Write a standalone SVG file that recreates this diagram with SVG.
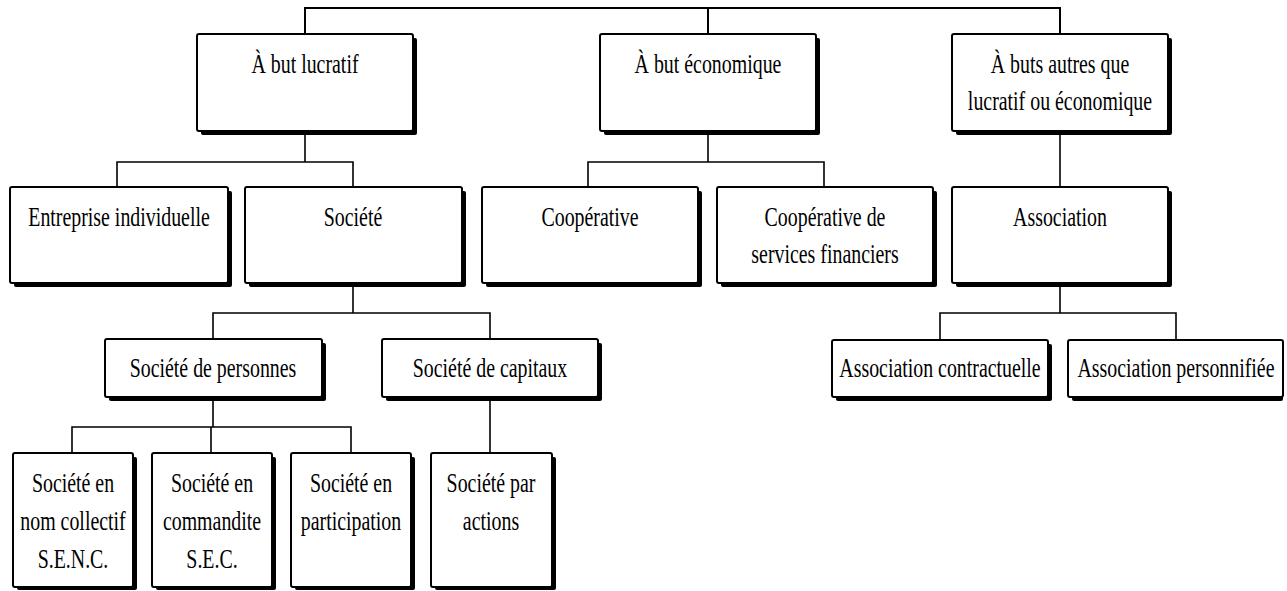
<svg xmlns="http://www.w3.org/2000/svg" width="1287" height="591" viewBox="0 0 1287 591">
<style>
.sh{fill:#000}
.box{fill:#fff;stroke:#000;stroke-width:2}
.t{font-family:'Liberation Serif','Times New Roman',serif;font-size:28px;text-anchor:middle;fill:#000}
.c{fill:none;stroke:#000;stroke-width:1.6}
</style>
<rect width="1287" height="591" fill="#fff"/>
<g id="connectors">
<path class="c" style="stroke-width:2" d="M305,34V8H1060V34M708,8V34"/>
<path class="c" d="M305,131V162M117,187V162H353V187"/>
<path class="c" d="M708,131V162M588,187V162H824V187"/>
<path class="c" d="M1060,131V187"/>
<path class="c" d="M353,283V313M213,339V313H490V339"/>
<path class="c" d="M1060,283V313M940,340V313H1176V340"/>
<path class="c" d="M213,397V427M72,453V427H351V453M211,427V453"/>
<path class="c" d="M490,397V453"/>
</g>
<g id="n1"><rect class="sh" x="201" y="38" width="216" height="97" rx="2"/><rect class="box" x="197" y="34" width="216" height="97" rx="2"/><text class="t" transform="translate(305,73) scale(0.71,1)">À but lucratif</text></g>
<g id="n2"><rect class="sh" x="604" y="38" width="216" height="97" rx="2"/><rect class="box" x="600" y="34" width="216" height="97" rx="2"/><text class="t" transform="translate(708,73) scale(0.71,1)">À but économique</text></g>
<g id="n3"><rect class="sh" x="956" y="38" width="216" height="97" rx="2"/><rect class="box" x="952" y="34" width="216" height="97" rx="2"/><text class="t" transform="translate(1060,73) scale(0.71,1)"><tspan x="0">À buts autres que</tspan><tspan x="0" dy="37">lucratif ou économique</tspan></text></g>
<g id="n4"><rect class="sh" x="14" y="191" width="218" height="96" rx="2"/><rect class="box" x="10" y="187" width="218" height="96" rx="2"/><text class="t" transform="translate(119,226) scale(0.71,1)">Entreprise individuelle</text></g>
<g id="n5"><rect class="sh" x="249" y="191" width="217" height="96" rx="2"/><rect class="box" x="245" y="187" width="217" height="96" rx="2"/><text class="t" transform="translate(353,226) scale(0.71,1)">Société</text></g>
<g id="n6"><rect class="sh" x="486" y="191" width="216" height="96" rx="2"/><rect class="box" x="482" y="187" width="216" height="96" rx="2"/><text class="t" transform="translate(590,226) scale(0.71,1)">Coopérative</text></g>
<g id="n7"><rect class="sh" x="721" y="191" width="216" height="96" rx="2"/><rect class="box" x="717" y="187" width="216" height="96" rx="2"/><text class="t" transform="translate(825,226) scale(0.71,1)"><tspan x="0">Coopérative de</tspan><tspan x="0" dy="37">services financiers</tspan></text></g>
<g id="n8"><rect class="sh" x="956" y="191" width="216" height="96" rx="2"/><rect class="box" x="952" y="187" width="216" height="96" rx="2"/><text class="t" transform="translate(1060,226) scale(0.71,1)">Association</text></g>
<g id="n9"><rect class="sh" x="109" y="343" width="217" height="58" rx="2"/><rect class="box" x="105" y="339" width="217" height="58" rx="2"/><text class="t" transform="translate(213,377) scale(0.71,1)">Société de personnes</text></g>
<g id="n10"><rect class="sh" x="386" y="343" width="216" height="58" rx="2"/><rect class="box" x="382" y="339" width="216" height="58" rx="2"/><text class="t" transform="translate(490,377) scale(0.71,1)">Société de capitaux</text></g>
<g id="n11"><rect class="sh" x="836" y="344" width="216" height="57" rx="2"/><rect class="box" x="832" y="340" width="216" height="57" rx="2"/><text class="t" transform="translate(940,377) scale(0.71,1)">Association contractuelle</text></g>
<g id="n12"><rect class="sh" x="1072" y="344" width="211" height="57" rx="2"/><rect class="box" x="1068" y="340" width="215" height="57" rx="2"/><text class="t" transform="translate(1176,377) scale(0.71,1)">Association personnifiée</text></g>
<g id="n13"><rect class="sh" x="17" y="457" width="120" height="133" rx="2"/><rect class="box" x="13" y="453" width="120" height="134" rx="2"/><text class="t" transform="translate(73,492) scale(0.71,1)"><tspan x="0">Société en</tspan><tspan x="0" dy="38">nom collectif</tspan><tspan x="0" dy="38">S.E.N.C.</tspan></text></g>
<g id="n14"><rect class="sh" x="156" y="457" width="120" height="133" rx="2"/><rect class="box" x="152" y="453" width="120" height="134" rx="2"/><text class="t" transform="translate(212,492) scale(0.71,1)"><tspan x="0">Société en</tspan><tspan x="0" dy="38">commandite</tspan><tspan x="0" dy="38">S.E.C.</tspan></text></g>
<g id="n15"><rect class="sh" x="295" y="457" width="120" height="133" rx="2"/><rect class="box" x="291" y="453" width="120" height="134" rx="2"/><text class="t" transform="translate(351,492) scale(0.71,1)"><tspan x="0">Société en</tspan><tspan x="0" dy="38">participation</tspan></text></g>
<g id="n16"><rect class="sh" x="435" y="457" width="121" height="133" rx="2"/><rect class="box" x="431" y="453" width="121" height="134" rx="2"/><text class="t" transform="translate(491,492) scale(0.71,1)"><tspan x="0">Société par</tspan><tspan x="0" dy="38">actions</tspan></text></g>
</svg>
